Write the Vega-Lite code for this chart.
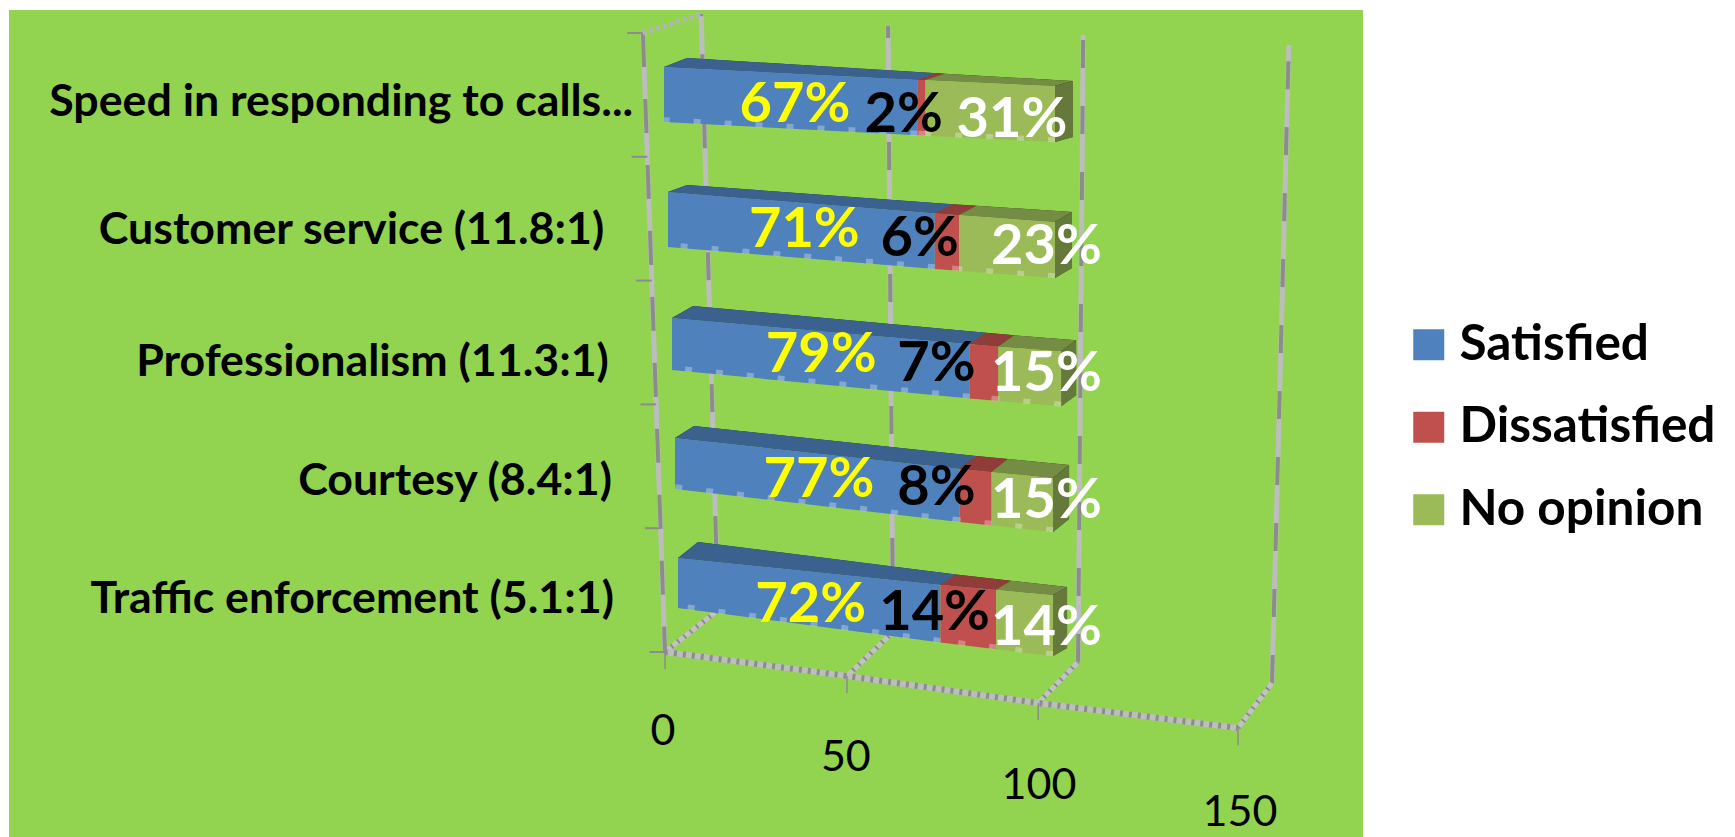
{
  "$schema": "https://vega.github.io/schema/vega-lite/v6.json",
  "width": 1354,
  "height": 827,
  "padding": {"left": 9, "top": 10, "right": 372, "bottom": 0},
  "autosize": {"type": "none"},
  "background": "#ffffff",
  "view": {"fill": "#92D350", "stroke": null},
  "config": {"font": "Lato"},
  "datasets": {
    "segments": [
      {"question": "Speed in responding to calls...", "row": 0, "response": "Satisfied", "share": 67},
      {"question": "Speed in responding to calls...", "row": 0, "response": "Dissatisfied", "share": 2},
      {"question": "Speed in responding to calls...", "row": 0, "response": "No opinion", "share": 31},
      {"question": "Customer service (11.8:1)", "row": 1, "response": "Satisfied", "share": 71},
      {"question": "Customer service (11.8:1)", "row": 1, "response": "Dissatisfied", "share": 6},
      {"question": "Customer service (11.8:1)", "row": 1, "response": "No opinion", "share": 23},
      {"question": "Professionalism (11.3:1)", "row": 2, "response": "Satisfied", "share": 79},
      {"question": "Professionalism (11.3:1)", "row": 2, "response": "Dissatisfied", "share": 7},
      {"question": "Professionalism (11.3:1)", "row": 2, "response": "No opinion", "share": 15},
      {"question": "Courtesy (8.4:1)", "row": 3, "response": "Satisfied", "share": 77},
      {"question": "Courtesy (8.4:1)", "row": 3, "response": "Dissatisfied", "share": 8},
      {"question": "Courtesy (8.4:1)", "row": 3, "response": "No opinion", "share": 15},
      {"question": "Traffic enforcement (5.1:1)", "row": 4, "response": "Satisfied", "share": 72},
      {"question": "Traffic enforcement (5.1:1)", "row": 4, "response": "Dissatisfied", "share": 14},
      {"question": "Traffic enforcement (5.1:1)", "row": 4, "response": "No opinion", "share": 14}
    ],
    "ticks": [{"tick": 0, "step": 0}, {"tick": 50, "step": 1}, {"tick": 100, "step": 2}, {"tick": 150, "step": 3}],
    "slots": [{"slot": 0}, {"slot": 1}, {"slot": 2}, {"slot": 3}, {"slot": 4}, {"slot": 5}]
  },
  "data": {"name": "segments"},
  "transform": [
    {"calculate": "indexof(['Satisfied','Dissatisfied','No opinion'],datum.response)", "as": "seq"},
    {"stack": "share", "groupby": ["question"], "sort": [{"field": "seq", "order": "ascending"}], "as": ["v0", "v1"]},
    {"calculate": "[0,1,2,3,4,5]", "as": "corner"},
    {"flatten": ["corner"]},
    {"calculate": "(datum.corner==0||datum.corner==3) ? datum.v0 : datum.v1", "as": "v"},
    {"calculate": "datum.v/100", "as": "f"},
    {"calculate": "datum.f-0.1*datum.f*(1-datum.f)", "as": "g"},
    {"calculate": "[0,1.02,2.05,2.81,3.58][datum.row]*(1-datum.g)+[100,100,100.5,99.5,99.5][datum.row]*datum.g", "as": "X"},
    {"calculate": "[0,1.016,2.041,3.016,3.992][datum.row]*(1-datum.f)+[0.154,1.26,2.309,3.341,4.293][datum.row]*datum.f", "as": "T"},
    {"calculate": "([55,55,52,51,50][datum.row]*(1-datum.f)+[56,56,55,54,61][datum.row]*datum.f)/123", "as": "H"},
    {"calculate": "([23,19,21,19,20][datum.row]*(1-datum.f)+[18,17,15,16,14][datum.row]*datum.f)/3.91", "as": "DX"},
    {"calculate": "([9,7,12,12,16][datum.row]*(1-datum.f)+[5,10,11,13,8][datum.row]*datum.f)/123", "as": "DY"}
  ],
  "encoding": {
    "x": {"field": "px", "type": "quantitative", "axis": null, "scale": {"domain": [-167.52, 178.77], "nice": false, "zero": false}},
    "y": {"field": "py", "type": "quantitative", "axis": null, "scale": {"domain": [-0.4634, 6.2602], "nice": false, "zero": false, "reverse": true}}
  },
  "layer": [
    {
      "description": "Back wall gridlines, light base",
      "data": {"name": "ticks"},
      "transform": [
        {"calculate": "[0,1]", "as": "end"},
        {"flatten": ["end"]},
        {"calculate": "datum.end==0 ? [13.8,58.6,105.9,155.5][datum.step] : [9.5,57.3,107.2,159.8][datum.step]", "as": "px"},
        {"calculate": "datum.end==0 ? [4.415,4.593,4.837,5.008][datum.step] : [-0.431,-0.333,-0.26,-0.179][datum.step]", "as": "py"}
      ],
      "mark": {"type": "line", "stroke": "#BDBDBD", "strokeWidth": 5},
      "encoding": {"detail": {"field": "tick"}, "order": {"field": "end"}}
    },
    {
      "description": "Back wall gridlines, dark dashes",
      "data": {"name": "ticks"},
      "transform": [
        {"calculate": "[0,1]", "as": "end"},
        {"flatten": ["end"]},
        {"calculate": "datum.end==0 ? [13.8,58.6,105.9,155.5][datum.step] : [9.5,57.3,107.2,159.8][datum.step]", "as": "px"},
        {"calculate": "datum.end==0 ? [4.415,4.593,4.837,5.008][datum.step] : [-0.431,-0.333,-0.26,-0.179][datum.step]", "as": "py"}
      ],
      "mark": {"type": "line", "stroke": "#8C8C8C", "strokeWidth": 4, "strokeDash": [28, 38]},
      "encoding": {"detail": {"field": "tick"}, "order": {"field": "end"}}
    },
    {
      "description": "Floor depth lines from the front edge to the back wall",
      "data": {"name": "ticks"},
      "transform": [
        {"calculate": "[0,1]", "as": "end"},
        {"flatten": ["end"]},
        {"calculate": "datum.end==0 ? [0.26,46.8,95.7,146.8][datum.step] : [13.8,58.6,105.9,155.5][datum.step]", "as": "px"},
        {"calculate": "datum.end==0 ? [4.756,4.951,5.171,5.374][datum.step] : [4.415,4.593,4.837,5.008][datum.step]", "as": "py"}
      ],
      "mark": {"type": "line", "stroke": "#C2C2C2", "strokeWidth": 5},
      "encoding": {"detail": {"field": "tick"}, "order": {"field": "end"}}
    },
    {
      "description": "Floor depth lines, dotted overlay",
      "data": {"name": "ticks"},
      "transform": [
        {"calculate": "[0,1]", "as": "end"},
        {"flatten": ["end"]},
        {"calculate": "datum.end==0 ? [0.26,46.8,95.7,146.8][datum.step] : [13.8,58.6,105.9,155.5][datum.step]", "as": "px"},
        {"calculate": "datum.end==0 ? [4.756,4.951,5.171,5.374][datum.step] : [4.415,4.593,4.837,5.008][datum.step]", "as": "py"}
      ],
      "mark": {"type": "line", "stroke": "#8C8C8C", "strokeWidth": 5, "strokeDash": [2, 6]},
      "encoding": {"detail": {"field": "tick"}, "order": {"field": "end"}}
    },
    {
      "description": "Front edge of the floor",
      "data": {"name": "ticks"},
      "transform": [
        {"calculate": "[0.26,46.8,95.7,146.8][datum.step]", "as": "px"},
        {"calculate": "[4.756,4.951,5.171,5.374][datum.step]", "as": "py"}
      ],
      "mark": {"type": "line", "stroke": "#BDBDBD", "strokeWidth": 6},
      "encoding": {"order": {"field": "tick"}}
    },
    {
      "description": "Front edge of the floor, dotted overlay",
      "data": {"name": "ticks"},
      "transform": [
        {"calculate": "[0.26,46.8,95.7,146.8][datum.step]", "as": "px"},
        {"calculate": "[4.756,4.951,5.171,5.374][datum.step]", "as": "py"}
      ],
      "mark": {"type": "line", "stroke": "#8C8C8C", "strokeWidth": 6, "strokeDash": [3, 6]},
      "encoding": {"order": {"field": "tick"}}
    },
    {
      "description": "Tick marks under the floor edge",
      "data": {"name": "ticks"},
      "transform": [
        {"calculate": "[0.26,46.8,95.7,146.8][datum.step]", "as": "px"},
        {"calculate": "[4.756,4.951,5.171,5.374][datum.step]", "as": "py"},
        {"calculate": "datum.py+0.14", "as": "py2"}
      ],
      "mark": {"type": "rule", "stroke": "#8C8C8C", "strokeWidth": 1.5},
      "encoding": {"y2": {"field": "py2"}}
    },
    {
      "description": "Category axis rising from the floor corner",
      "data": {"name": "slots"},
      "transform": [
        {"calculate": "0.26-1.132*(5-datum.slot)", "as": "px"},
        {"calculate": "-0.276+1.0064*datum.slot", "as": "py"}
      ],
      "mark": {"type": "line", "stroke": "#BDBDBD", "strokeWidth": 5},
      "encoding": {"order": {"field": "slot"}}
    },
    {
      "description": "Category axis, dark dashes",
      "data": {"name": "slots"},
      "transform": [
        {"calculate": "0.26-1.132*(5-datum.slot)", "as": "px"},
        {"calculate": "-0.276+1.0064*datum.slot", "as": "py"}
      ],
      "mark": {"type": "line", "stroke": "#8C8C8C", "strokeWidth": 4, "strokeDash": [34, 32]},
      "encoding": {"order": {"field": "slot"}}
    },
    {
      "description": "Category axis tick marks",
      "data": {"name": "slots"},
      "transform": [
        {"calculate": "0.26-1.132*(5-datum.slot)", "as": "px"},
        {"calculate": "datum.px-4", "as": "px2"},
        {"calculate": "-0.276+1.0064*datum.slot", "as": "py"}
      ],
      "mark": {"type": "rule", "stroke": "#8C8C8C", "strokeWidth": 2},
      "encoding": {"x2": {"field": "px2"}}
    },
    {
      "description": "Side wall top edge",
      "data": {"name": "ticks"},
      "transform": [
        {"filter": "datum.tick==0"},
        {"calculate": "[0,1]", "as": "end"},
        {"flatten": ["end"]},
        {"calculate": "datum.end==0 ? -5.4 : 9.5", "as": "px"},
        {"calculate": "datum.end==0 ? -0.276 : -0.431", "as": "py"}
      ],
      "mark": {"type": "line", "stroke": "#B4B4B4", "strokeWidth": 5, "strokeDash": [4, 3]},
      "encoding": {"order": {"field": "end"}}
    },
    {
      "description": "Bar top faces, dark underlay",
      "transform": [
        {"filter": "datum.corner<4"},
        {"calculate": "datum.corner<2 ? datum.X : datum.X+datum.DX", "as": "px"},
        {"calculate": "datum.corner<2 ? datum.T : datum.T-datum.DY", "as": "py"}
      ],
      "mark": {"type": "line", "fill": "#000000", "strokeWidth": 0},
      "encoding": {"detail": [{"field": "question"}, {"field": "response"}], "order": {"field": "corner"}}
    },
    {
      "description": "Bar top faces",
      "transform": [
        {"filter": "datum.corner<4"},
        {"calculate": "datum.corner<2 ? datum.X : datum.X+datum.DX", "as": "px"},
        {"calculate": "datum.corner<2 ? datum.T : datum.T-datum.DY", "as": "py"}
      ],
      "mark": {"type": "line", "strokeWidth": 0, "opacity": 0.75},
      "encoding": {
        "detail": {"field": "question"},
        "order": {"field": "corner"},
        "fill": {
          "field": "response",
          "type": "nominal",
          "scale": {"domain": ["Satisfied", "Dissatisfied", "No opinion"], "range": ["#4F81BD", "#C0504D", "#9BBB59"]},
          "legend": {
            "title": null,
            "orient": "none",
            "legendX": 1395,
            "legendY": 310,
            "symbolType": "square",
            "symbolSize": 961,
            "symbolStrokeWidth": 0,
            "symbolOpacity": 1,
            "labelFont": "Lato",
            "labelFontWeight": "bold",
            "labelFontSize": 49.5,
            "labelColor": "#000000",
            "labelOffset": 6,
            "labelLimit": 400,
            "rowPadding": 31.5
          }
        }
      }
    },
    {
      "description": "Bar end faces, dark underlay",
      "transform": [
        {"filter": "datum.response=='No opinion' && datum.corner!=0 && datum.corner!=3"},
        {"calculate": "indexof([1,4,5,2],datum.corner)", "as": "turn"},
        {"calculate": "datum.corner>=4 ? datum.X+datum.DX : datum.X", "as": "px"},
        {"calculate": "datum.corner==1 ? datum.T : datum.corner==4 ? datum.T-datum.DY : datum.corner==5 ? datum.T+datum.H-datum.DY : datum.T+datum.H", "as": "py"}
      ],
      "mark": {"type": "line", "fill": "#000000", "strokeWidth": 0},
      "encoding": {"detail": {"field": "question"}, "order": {"field": "turn"}}
    },
    {
      "description": "Bar end faces",
      "transform": [
        {"filter": "datum.response=='No opinion' && datum.corner!=0 && datum.corner!=3"},
        {"calculate": "indexof([1,4,5,2],datum.corner)", "as": "turn"},
        {"calculate": "datum.corner>=4 ? datum.X+datum.DX : datum.X", "as": "px"},
        {"calculate": "datum.corner==1 ? datum.T : datum.corner==4 ? datum.T-datum.DY : datum.corner==5 ? datum.T+datum.H-datum.DY : datum.T+datum.H", "as": "py"}
      ],
      "mark": {"type": "line", "strokeWidth": 0, "opacity": 0.65},
      "encoding": {
        "detail": {"field": "question"},
        "order": {"field": "turn"},
        "fill": {"field": "response", "type": "nominal", "scale": {"domain": ["Satisfied", "Dissatisfied", "No opinion"], "range": ["#4F81BD", "#C0504D", "#9BBB59"]}}
      }
    },
    {
      "description": "Bar front faces, one stacked segment per response",
      "transform": [
        {"filter": "datum.corner<4"},
        {"calculate": "datum.X", "as": "px"},
        {"calculate": "datum.corner<2 ? datum.T : datum.T+datum.H", "as": "py"}
      ],
      "mark": {"type": "line", "strokeWidth": 0},
      "encoding": {
        "detail": {"field": "question"},
        "order": {"field": "corner"},
        "fill": {"field": "response", "type": "nominal", "scale": {"domain": ["Satisfied", "Dissatisfied", "No opinion"], "range": ["#4F81BD", "#C0504D", "#9BBB59"]}}
      }
    },
    {
      "description": "Pale flecks along each bar's lower edge",
      "transform": [
        {"filter": "datum.corner==2||datum.corner==3"},
        {"calculate": "datum.X", "as": "px"},
        {"calculate": "datum.T+datum.H-0.018", "as": "py"}
      ],
      "mark": {"type": "line", "stroke": "#FFFFFF", "strokeOpacity": 0.3, "strokeWidth": 5, "strokeDash": [7, 24]},
      "encoding": {"detail": [{"field": "question"}, {"field": "response"}], "order": {"field": "corner"}}
    },
    {
      "description": "Percentage labels",
      "transform": [
        {"filter": "datum.corner==0"},
        {"calculate": "datum.share+'%'", "as": "label"},
        {"calculate": "datum.seq==0 ? (datum.v0+datum.v1)/2+0.6*datum.row*(1-(datum.v0+datum.v1)/200) : datum.seq==1 ? [61.3,65.4,69.7,69.7,69.2][datum.row] : (datum.share>30 ? 89 : 97.8)", "as": "px"},
        {"calculate": "datum.seq==0 ? 0.31+1.016*datum.row : datum.seq==1 ? 0.39+1.012*datum.row : 0.43+1.033*datum.row", "as": "py"}
      ],
      "mark": {"type": "text", "font": "Lato", "fontWeight": "bold", "fontSize": 56, "align": "center", "baseline": "middle"},
      "encoding": {
        "text": {"field": "label"},
        "color": {
          "condition": [
            {"test": "datum.seq==0", "value": "#FFFF00"},
            {"test": "datum.seq==1", "value": "#000000"}
          ],
          "value": "#FFFFFF"
        }
      }
    },
    {
      "description": "Question labels",
      "transform": [
        {"filter": "datum.corner==0 && datum.seq==0"},
        {"calculate": "[-7.9,-15.3,-14.1,-13.3,-12.8][datum.row]", "as": "px"},
        {"calculate": "[0.29,1.33,2.405,3.37,4.33][datum.row]", "as": "py"}
      ],
      "mark": {"type": "text", "font": "Lato", "fontWeight": "bold", "fontSize": 44.7, "align": "right", "baseline": "middle", "color": "#000000"},
      "encoding": {"text": {"field": "question"}}
    },
    {
      "description": "Value axis labels",
      "data": {"name": "ticks"},
      "transform": [
        {"calculate": "[-0.26,46.5,95.9,147.3][datum.step]", "as": "px"},
        {"calculate": "[5.407,5.618,5.846,6.065][datum.step]", "as": "py"}
      ],
      "mark": {"type": "text", "font": "Lato", "fontSize": 43, "align": "center", "baseline": "middle", "color": "#000000"},
      "encoding": {"text": {"field": "tick", "type": "quantitative"}}
    }
  ]
}
